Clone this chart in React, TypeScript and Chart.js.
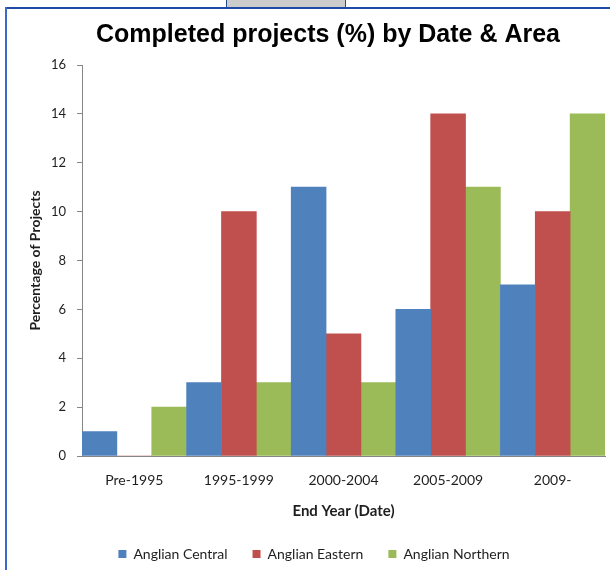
import React, { useEffect, useRef } from "react";
import { Chart, registerables } from "chart.js";

Chart.register(...registerables);

const categories = ["Pre-1995", "1995-1999", "2000-2004", "2005-2009", "2009-"];
const anglianCentral = [1, 3, 11, 6, 7];
const anglianEastern = [0, 10, 5, 14, 10];
const anglianNorthern = [2, 3, 3, 11, 14];
const seriesNames = ["Anglian Central", "Anglian Eastern", "Anglian Northern"];
const yMin = 0;
const yMax = 16;
const yStep = 2;

const W = 610;
const H = 570;
const PLOT_LEFT = 82;
const PLOT_BOTTOM = 456;
const TITLE_CENTER = 328;
const LEGEND_CENTER = 314;

const framePlugin = {
  id: "frame",
  afterLayout(chart: any) {
    const t = chart.titleBlock;
    if (t) {
      const dx = TITLE_CENTER - (t.left + t.right) / 2;
      t.left += dx;
      t.right += dx;
    }
    const l = chart.legend;
    if (l) {
      const dx = LEGEND_CENTER - (l.left + l.right) / 2;
      l.left += dx;
      l.right += dx;
      l.top += 1;
      l.bottom += 1;
    }
  },
  beforeDraw(chart: any) {
    const ctx = chart.ctx;
    ctx.save();
    ctx.fillStyle = "#ffffff";
    ctx.fillRect(0, 0, W, H);
    // tab at top
    ctx.fillStyle = "#cccccc";
    ctx.fillRect(226, 0, 120, 8);
    ctx.strokeStyle = "#2a4c8c";
    ctx.lineWidth = 1;
    ctx.beginPath();
    ctx.moveTo(226.5, 0);
    ctx.lineTo(226.5, 8);
    ctx.moveTo(345.5, 0);
    ctx.lineTo(345.5, 8);
    ctx.stroke();
    // frame
    ctx.fillStyle = "#1f4aa6";
    ctx.fillRect(6, 7, W - 6, 2);
    ctx.fillStyle = "#3a6bc6";
    ctx.fillRect(5, 7, 2, H - 7);
    ctx.restore();
  },
};

export default function App() {
  const ref = useRef<HTMLCanvasElement | null>(null);

  useEffect(() => {
    document.body.style.margin = "0";
    const canvas = ref.current;
    if (!canvas) return;
    const textColor = "#1e1e1e";
    const chart = new Chart(canvas, {
      type: "bar",
      data: {
        labels: categories,
        datasets: [
          { label: seriesNames[0], data: anglianCentral, backgroundColor: "#4f81bd" },
          { label: seriesNames[1], data: anglianEastern, backgroundColor: "#c0504d" },
          { label: seriesNames[2], data: anglianNorthern, backgroundColor: "#9bbb59" },
        ],
      },
      options: {
        responsive: false,
        animation: false,
        devicePixelRatio: 1,
        datasets: {
          bar: { barPercentage: 1, categoryPercentage: 1, borderWidth: 0 },
        },
        layout: { padding: { left: 0, right: 5, top: 0, bottom: 0 } },
        plugins: {
          tooltip: { enabled: false },
          title: {
            display: true,
            text: "Completed projects (%) by Date & Area",
            color: "#000000",
            font: { family: "'Liberation Sans', Arial, sans-serif", size: 25, weight: "bold", lineHeight: 1.2 },
            padding: { top: 20, bottom: 15 },
          },
          legend: {
            display: true,
            position: "bottom",
            labels: {
              boxWidth: 8,
              boxHeight: 8,
              padding: 25,
              color: textColor,
              font: { family: "Lato, 'Open Sans', sans-serif", size: 14 },
            },
          },
        },
        scales: {
          x: {
            grid: { display: false, drawTicks: false },
            border: { display: true, color: "#868686", width: 1 },
            ticks: {
              color: textColor,
              padding: 16,
              maxRotation: 0,
              font: { family: "Lato, 'Open Sans', sans-serif", size: 14 },
            },
            title: {
              display: true,
              text: "End Year (Date)",
              color: textColor,
              font: { family: "Lato, 'Open Sans', sans-serif", size: 15, weight: "bold" },
              padding: { top: 4, bottom: 1 },
            },
            afterFit: (s: any) => {
              const lh = s.chart.legend ? s.chart.legend.height : 0;
              s.height = H - PLOT_BOTTOM - lh;
            },
          },
          y: {
            min: yMin,
            max: yMax,
            ticks: {
              stepSize: yStep,
              color: textColor,
              padding: 11,
              font: { family: "Lato, 'Open Sans', sans-serif", size: 13 },
            },
            grid: { display: true, drawOnChartArea: false, drawTicks: true, tickLength: 5, color: "#868686" },
            border: { display: true, color: "#868686", width: 1 },
            title: {
              display: true,
              text: "Percentage of Projects",
              color: textColor,
              font: { family: "Lato, 'Open Sans', sans-serif", size: 14, weight: "bold" },
              padding: { top: 27, bottom: 0 },
            },
            afterFit: (s: any) => {
              s.width = PLOT_LEFT;
            },
          },
        },
      },
      plugins: [framePlugin],
    });
    return () => chart.destroy();
  }, []);

  return (
    <div style={{ width: W, height: H, overflow: "hidden" }}>
      <canvas ref={ref} width={W} height={H} style={{ display: "block", width: W, height: H }} />
    </div>
  );
}
